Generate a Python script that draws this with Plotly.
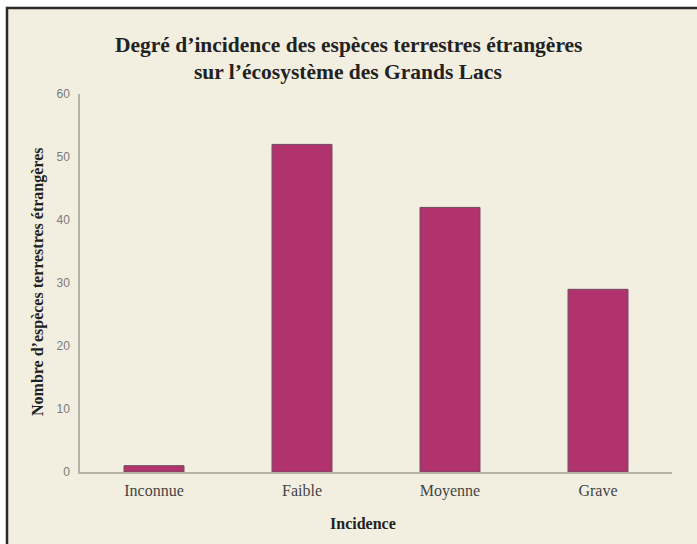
import plotly.graph_objects as go

categories = ["Inconnue", "Faible", "Moyenne", "Grave"]
values = [1, 52, 42, 29]
y_ticks = [0, 10, 20, 30, 40, 50, 60]

W, H = 697, 544
L, R, T, B = 80, 25, 94, 72
pw, ph = W - L - R, H - T - B

def px(x):
    return (x - L) / pw

def py(y):
    return (H - B - y) / ph

bg = "#f3efe0"
fig = go.Figure()
fig.add_trace(go.Bar(
    x=categories, y=values,
    marker=dict(color="#b0336e", line=dict(color="#6e4a5e", width=1)),
    width=0.405,
))

fig.update_layout(
    width=W, height=H,
    margin=dict(l=L, r=R, t=T, b=B),
    paper_bgcolor="white",
    plot_bgcolor="rgba(0,0,0,0)",
    showlegend=False,
    xaxis=dict(
        range=[-0.5, 3.5], showgrid=False, zeroline=False,
        showline=True, linecolor="#b5b2a8", linewidth=1.5,
        ticks="", ticklabelstandoff=3,
        tickfont=dict(family="Liberation Serif", size=16, color="#444444"),
    ),
    yaxis=dict(
        range=[0, 60], tickvals=y_ticks, showgrid=False, zeroline=False,
        showline=True, linecolor="#b5b2a8", linewidth=1.5,
        ticks="", ticklabelstandoff=6,
        tickfont=dict(family="Liberation Sans", size=12, color="#7a7a7a"),
    ),
    shapes=[
        dict(type="rect", xref="paper", yref="paper", layer="below",
             x0=px(7), x1=px(720), y0=py(570), y1=py(8),
             fillcolor=bg, line=dict(color="#2a2a2a", width=2.5)),
    ],
    annotations=[
        dict(text="<b>Degré d’incidence des espèces terrestres étrangères</b>",
             xref="paper", yref="paper", x=px(348), y=py(45),
             xanchor="center", yanchor="middle", showarrow=False,
             font=dict(family="Liberation Serif", size=21.5, color="#222222")),
        dict(text="<b>sur l’écosystème des Grands Lacs</b>",
             xref="paper", yref="paper", x=px(348), y=py(72),
             xanchor="center", yanchor="middle", showarrow=False,
             font=dict(family="Liberation Serif", size=21.5, color="#222222")),
        dict(text="<b>Nombre d’espèces terrestres étrangères</b>", textangle=-90,
             xref="paper", yref="paper", x=px(38), y=py(282),
             xanchor="center", yanchor="middle", showarrow=False,
             font=dict(family="Liberation Serif", size=16, color="#222222")),
        dict(text="<b>Incidence</b>",
             xref="paper", yref="paper", x=px(363), y=py(523),
             xanchor="center", yanchor="middle", showarrow=False,
             font=dict(family="Liberation Serif", size=16, color="#222222")),
    ],
)

fig.write_html("out.html", config={"displayModeBar": False},
               post_script="document.body.style.margin='0';document.body.style.padding='0';")
